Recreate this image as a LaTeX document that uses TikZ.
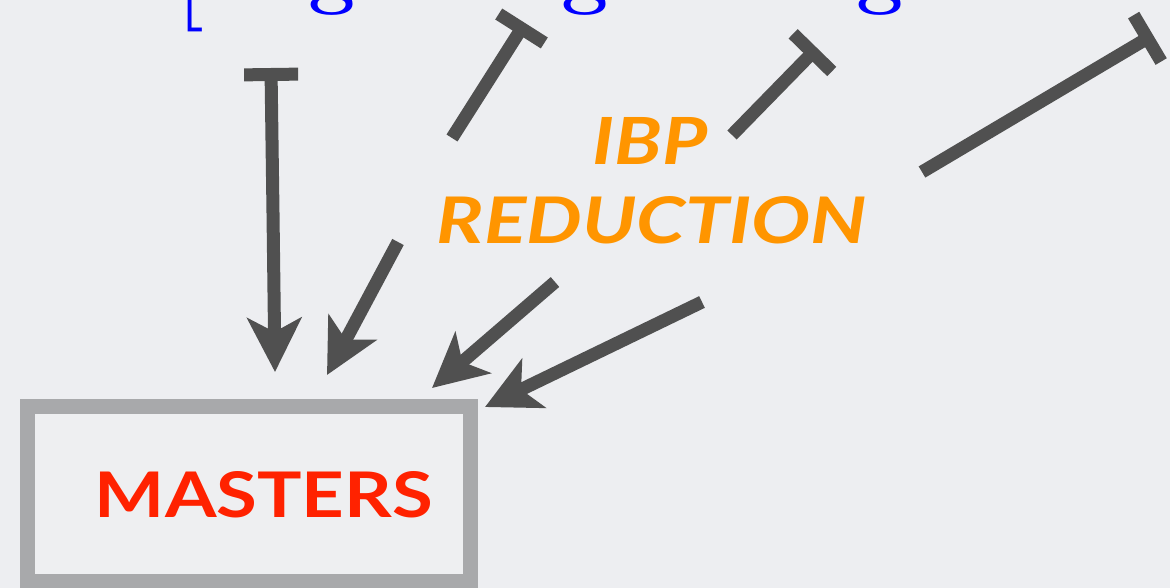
\documentclass[tikz,border=0pt]{standalone}
\usepackage{fontspec}
\newfontfamily\labelfont{Lato}
\usetikzlibrary{arrows.meta}
\definecolor{bgc}{RGB}{237,238,241}
\definecolor{arrowc}{RGB}{80,80,80}
\definecolor{framec}{RGB}{168,169,171}
\definecolor{boxc}{RGB}{238,239,241}
\definecolor{mastc}{RGB}{255,34,0}
\definecolor{ibpc}{RGB}{255,149,0}
\definecolor{fragc}{RGB}{0,0,255}
\begin{document}
\begin{tikzpicture}[x=1pt,y=-1pt,
  conn/.style={draw=arrowc, line width=13pt},
  inhib/.style={conn, -{Bar[width=54pt]}},
  feed/.style={conn, -{Stealth[length=54pt,width=54pt,inset=14pt]}},
  frag/.style={inner sep=0pt, text=fragc, font=\fontsize{84}{84}\selectfont\bfseries, anchor=base},
  bigtext/.style={inner sep=0pt, outer sep=0pt},
]
\fill[bgc] (0,0) rectangle (1170,588);
\useasboundingbox (0,0) rectangle (1170,588);
\begin{scope}
  \clip (0,0) rectangle (1170,588);
  \node[frag, anchor=base west, font=\fontsize{110}{110}\selectfont] (brk) at (176,4.5) {[};
  \node[frag] (g1) at (332,-1.3) {g};
  \node[frag] (g2) at (585,-1.3) {g};
  \node[frag] (g3) at (880,-1.3) {g};
  % box
  \node[draw=framec, line width=15pt, fill=boxc, minimum width=443pt, minimum height=175.5pt, inner sep=0pt, outer sep=0pt] (box) at (249,493.75) {};
\end{scope}
\node[bigtext, text=mastc] (masters) at (264,495) {\resizebox{338pt}{46pt}{\labelfont\bfseries MASTERS}};
\node[bigtext, text=ibpc] (ibp) at (650.5,140.5) {\resizebox{115pt}{47pt}{\labelfont\bfseries\itshape IBP}};
\node[bigtext, text=ibpc] (red) at (652,220.5) {\resizebox{430pt}{47pt}{\labelfont\bfseries\itshape REDUCTION}};

\coordinate (t1s) at (273,213);
\coordinate (t1e) at (271,68);
\coordinate (a1e) at (275,372);
\coordinate (t2s) at (452,138);
\coordinate (t2e) at (525,23);
\coordinate (a2s) at (398,242);
\coordinate (a2e) at (327,375);
\coordinate (t3s) at (732,135);
\coordinate (t3e) at (817,48);
\coordinate (a3s) at (555,282);
\coordinate (a3e) at (432,388);
\coordinate (a4s) at (702,302);
\coordinate (a4e) at (485,407);
\coordinate (t4s) at (922,172);
\coordinate (t4e) at (1153,35);

\draw[inhib] (t1s) -- (t1e);
\draw[feed] (t1s) -- (a1e);
\draw[inhib] (t2s) -- (t2e);
\draw[feed] (a2s) -- (a2e);
\draw[inhib] (t3s) -- (t3e);
\draw[feed] (a3s) -- (a3e);
\draw[feed] (a4s) -- (a4e);
\draw[inhib] (t4s) -- (t4e);
\end{tikzpicture}
\end{document}
